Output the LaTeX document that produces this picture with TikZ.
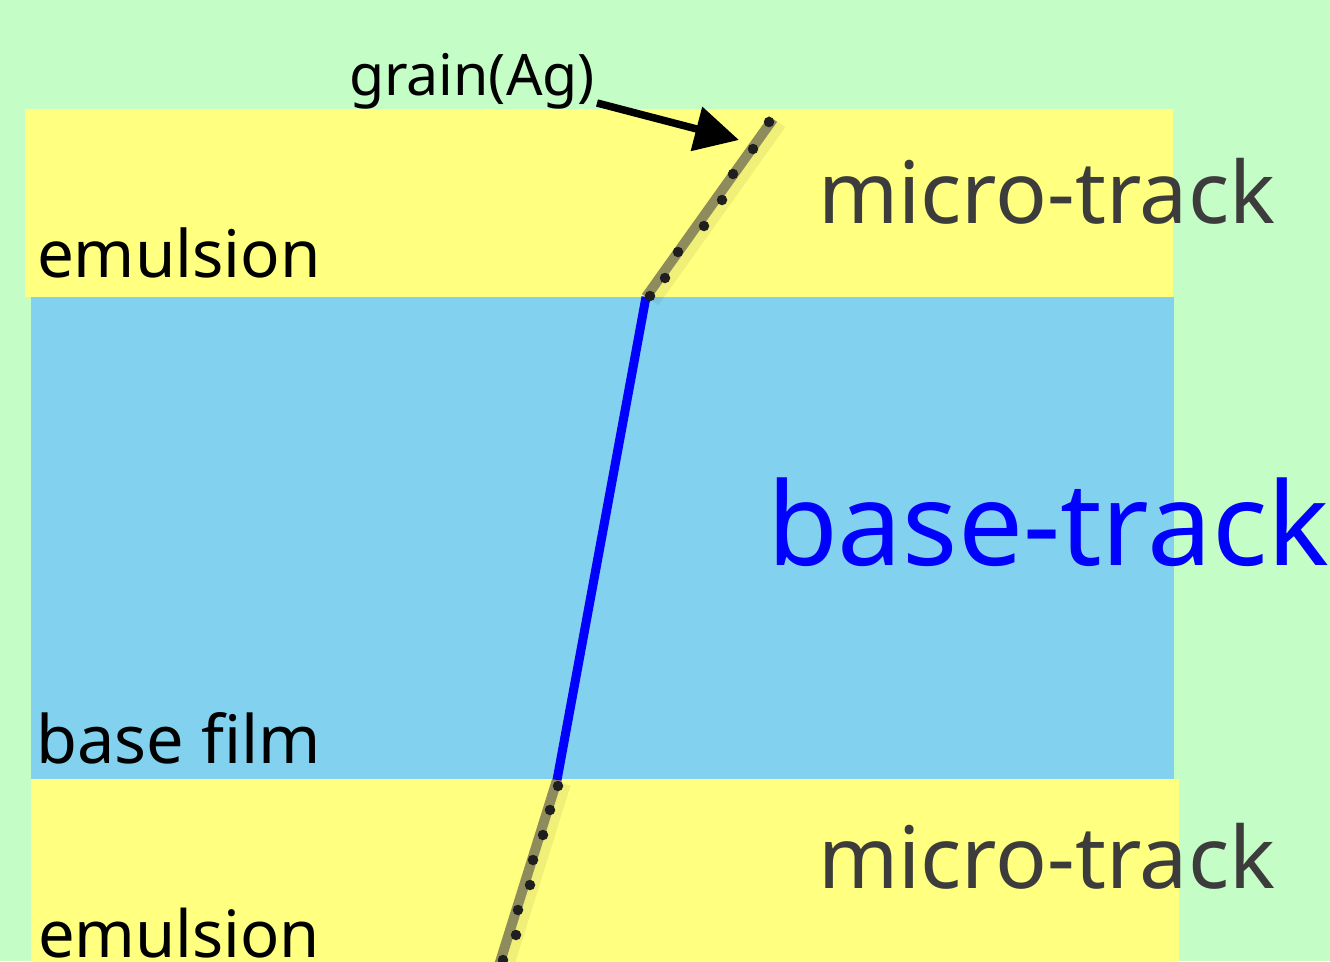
\documentclass[tikz,border=0pt]{standalone}
\usepackage{fontspec}
\setmainfont{Noto Sans}
\usetikzlibrary{arrows.meta}
\definecolor{bggreen}{RGB}{197,253,198}
\definecolor{emuyellow}{RGB}{255,255,128}
\definecolor{baseblue}{RGB}{130,210,239}
\definecolor{olive}{RGB}{142,139,92}
\definecolor{microgray}{RGB}{60,60,60}
\newcommand\fitw[2]{\resizebox{#1}{!}{\fontsize{60}{72}\selectfont #2}}
\tikzset{
  lbl/.style={anchor=base west, inner sep=0pt, outer sep=0pt},
  microline/.style={olive, line width=10pt, line cap=butt},
  shadowline/.style={black, opacity=0.06, line width=18pt},
  basetrk/.style={blue, line width=9pt},
  grainpt/.style={circle, fill=black!88, minimum size=10.5pt, inner sep=0pt},
  pointer/.style={line width=7.5pt, -{Triangle[length=44pt,width=44pt]}},
}
\begin{document}
\begin{tikzpicture}[x=1pt,y=-1pt]
\useasboundingbox (0,0) rectangle (1330,961);
\clip (0,0) rectangle (1330,961);
% background and layers
\fill[bggreen] (0,0) rectangle (1330,961);
\fill[emuyellow] (25,109) rectangle (1173,297);
\fill[baseblue] (31,297) rectangle (1174,779);
\fill[emuyellow] (31,779) rectangle (1179,965);
% track coordinates
\coordinate (mtA) at (773,119);
\coordinate (mtB) at (646,297);
\coordinate (btB) at (557,780);
\coordinate (mbB) at (496,975);
% shadows
\draw[shadowline] ([xshift=5pt,yshift=-3pt]mtA) -- ([xshift=5pt,yshift=-3pt]mtB);
\draw[shadowline] ([xshift=5pt,yshift=-3pt]btB) -- ([xshift=5pt,yshift=-3pt]mbB);
% micro-tracks
\draw[microline] (mtA) -- (mtB);
\draw[microline] (btB) -- (mbB);
% base-track
\draw[basetrk] (mtB) -- (btB);
% grains top
\foreach \p [count=\i] in {(769,122),(753,149),(733,174),(722,200),(704,226),(678,252),(665,278),(650,296)}
  \node[grainpt] (gt\i) at \p {};
% grains bottom
\foreach \p [count=\i] in {(558,786),(550,810),(543,835),(533,860),(530,885),(518,910),(516,935),(503,960)}
  \node[grainpt] (gb\i) at \p {};
% labels
\node[lbl] (grain) at (349,95) {\fitw{246pt}{grain(Ag)}};
\node[lbl] (emuT) at (37,277) {\fitw{284pt}{emulsion}};
\node[lbl,text=microgray] (microT) at (818,223) {\fitw{457pt}{micro-track}};
\node[lbl,text=blue] (baseT) at (767,565) {\fitw{562pt}{base-track}};
\node[lbl] (film) at (36,763) {\fitw{285pt}{base film}};
\node[lbl,text=microgray] (microB) at (818,888) {\fitw{457pt}{micro-track}};
\node[lbl] (emuB) at (38,957) {\fitw{282pt}{emulsion}};
% pointer arrow
\coordinate (arrS) at (597,103);
\coordinate (arrE) at (739,140);
\draw[pointer] (arrS) -- (arrE);
\end{tikzpicture}
\end{document}
